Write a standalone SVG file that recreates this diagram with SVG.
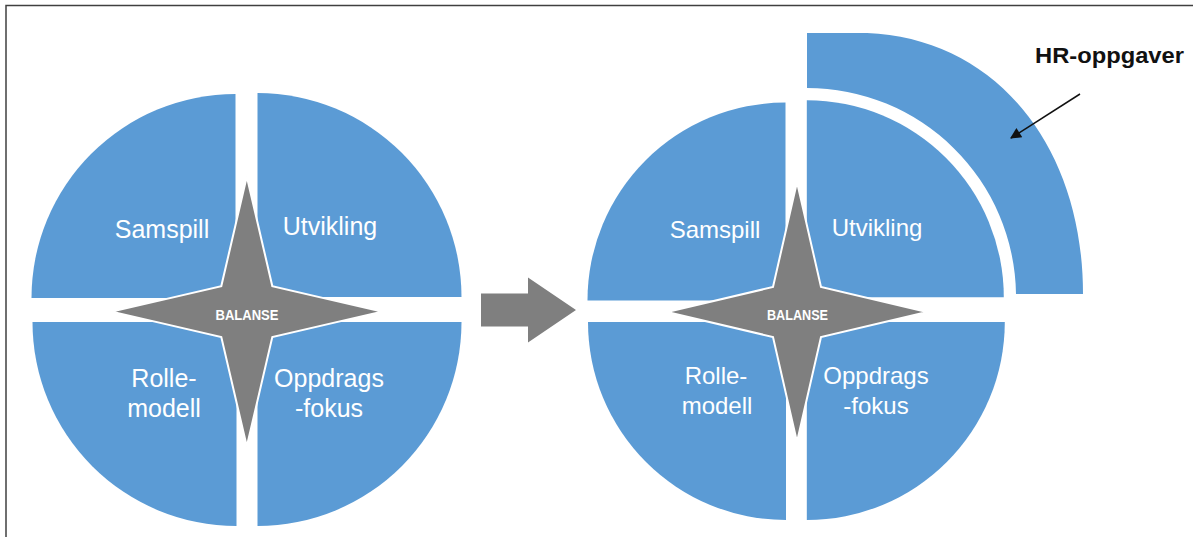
<svg xmlns="http://www.w3.org/2000/svg" width="1193" height="537" viewBox="0 0 1193 537">
  <style>
    .q { fill: #5b9bd5; }
    .star { fill: #7f7f7f; stroke: #ffffff; stroke-width: 2; stroke-linejoin: miter; }
    .lbl { font-family: "Liberation Sans", Arial, sans-serif; fill: #ffffff; text-anchor: middle; }
    .l1 { font-size: 25px; }
    .l2 { font-size: 24px; }
    .bal { font-family: "Liberation Sans", Arial, sans-serif; font-size: 14px; font-weight: bold; fill: #ffffff; text-anchor: middle; }
    .hr { font-family: "Liberation Sans", Arial, sans-serif; font-size: 22.5px; font-weight: bold; fill: #111111; }
  </style>
  <defs>
    <marker id="ah" viewBox="0 0 10 10" refX="9" refY="5" markerWidth="16" markerHeight="11" markerUnits="userSpaceOnUse" orient="auto">
      <path d="M0,0 L10,5 L0,10 Z" fill="#111111"/>
    </marker>
  </defs>
  <rect width="1193" height="537" fill="#ffffff"/>
  <rect x="6" y="5.5" width="1200" height="600" fill="none" stroke="#404040" stroke-width="1.5"/>

  <!-- Left diagram -->
  <g id="left-samspill">
    <path class="q" d="M235.5,298 L31.5,298 A204,204 0 0 1 235.5,94 Z"/>
    <text class="lbl l1" x="162" y="238">Samspill</text>
  </g>
  <g id="left-utvikling">
    <path class="q" d="M257.5,297 L257.5,93 A204,204 0 0 1 461.5,297 Z"/>
    <text class="lbl l1" x="330" y="235">Utvikling</text>
  </g>
  <g id="left-rollemodell">
    <path class="q" d="M236.5,322 L236.5,526 A204,204 0 0 1 32.5,322 Z"/>
    <text class="lbl l1" x="164" y="387">Rolle-</text>
    <text class="lbl l1" x="164" y="417">modell</text>
  </g>
  <g id="left-oppdragsfokus">
    <path class="q" d="M257.5,322 L461.5,322 A204,204 0 0 1 257.5,526 Z"/>
    <text class="lbl l1" x="329" y="387">Oppdrags</text>
    <text class="lbl l1" x="329" y="417">-fokus</text>
  </g>
  <g id="left-balanse">
    <path class="star" d="M246.8,176.6 L272.3,286.1 L381.8,311.6 L272.3,337.1 L246.8,446.6 L221.3,337.1 L111.8,311.6 L221.3,286.1 Z"/>
    <text class="bal" x="247" y="319.5" textLength="63" lengthAdjust="spacingAndGlyphs">BALANSE</text>
  </g>

  <!-- Right diagram -->
  <g id="right-hr-oppgaver">
    <path class="q" d="M807,33 L867,33 C995,38 1083,145 1083,294 L1016,294 A209,209 0 0 0 807,88 Z"/>
    <text class="hr" x="1035" y="62.5" textLength="149" lengthAdjust="spacingAndGlyphs">HR-oppgaver</text>
  </g>
  <g id="right-samspill">
    <path class="q" d="M785.5,300.5 L587.5,300.5 A198,198 0 0 1 785.5,102.5 Z"/>
    <text class="lbl l2" x="715" y="238">Samspill</text>
  </g>
  <g id="right-utvikling">
    <path class="q" d="M806.8,297.3 L806.8,100.3 A197,197 0 0 1 1003.8,297.3 Z"/>
    <text class="lbl l2" x="877" y="236">Utvikling</text>
  </g>
  <g id="right-rollemodell">
    <path class="q" d="M786,322 L786,520 A198,198 0 0 1 588,322 Z"/>
    <text class="lbl l2" x="716" y="384">Rolle-</text>
    <text class="lbl l2" x="717" y="414">modell</text>
  </g>
  <g id="right-oppdragsfokus">
    <path class="q" d="M806.8,322 L1004.8,322 A198,198 0 0 1 806.8,520 Z"/>
    <text class="lbl l2" x="876" y="384">Oppdrags</text>
    <text class="lbl l2" x="876" y="414">-fokus</text>
  </g>
  <g id="right-balanse">
    <path class="star" d="M797,182 L821,287 L927,312 L821,337 L797,442 L773,337 L667,312 L773,287 Z"/>
    <text class="bal" x="797.5" y="320" textLength="61" lengthAdjust="spacingAndGlyphs">BALANSE</text>
  </g>

  <!-- Connectors -->
  <g id="connectors">
    <path d="M481,293.5 L528,293.5 L528,277.5 L576,310 L528,342.5 L528,326.5 L481,326.5 Z" fill="#7f7f7f"/>
    <line x1="1080" y1="94" x2="1011" y2="138" stroke="#111111" stroke-width="1.5" marker-end="url(#ah)"/>
  </g>
</svg>
